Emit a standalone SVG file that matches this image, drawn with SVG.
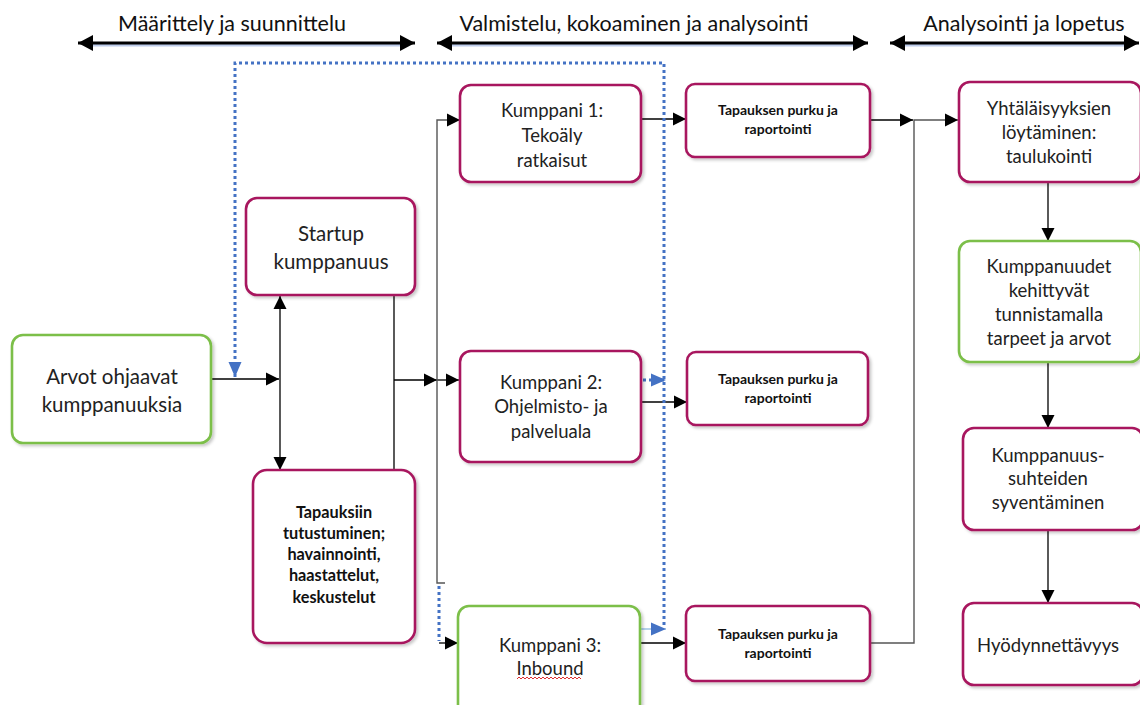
<svg xmlns="http://www.w3.org/2000/svg" width="1140" height="705" viewBox="0 0 1140 705">
  <defs>
    <filter id="shadow" x="-10%" y="-10%" width="130%" height="130%">
      <feDropShadow dx="2" dy="2" stdDeviation="1.8" flood-color="#000" flood-opacity="0.22"/>
    </filter>
    <marker id="arr" markerUnits="userSpaceOnUse" markerWidth="14" markerHeight="14" refX="13" refY="7" orient="auto">
      <path d="M0,0.5 L13,7 L0,13.5 z" fill="#000"/>
    </marker>
    <marker id="harr" markerUnits="userSpaceOnUse" markerWidth="16" markerHeight="16" refX="15" refY="8" orient="auto-start-reverse">
      <path d="M0,0 L15,8 L0,16 z" fill="#000"/>
    </marker>
    <marker id="barr" markerUnits="userSpaceOnUse" markerWidth="16" markerHeight="14" refX="15" refY="7" orient="auto-start-reverse">
      <path d="M0,0.5 L15,7 L0,13.5 z" fill="#4472C4"/>
    </marker>
  </defs>
  <style>
    .box { fill: #fff; stroke-width: 2.6; filter: url(#shadow); }
    .mag { stroke: #A8185E; }
    .grn { stroke: #7CBF4A; }
    .t { font-family: Lato, "Liberation Sans", sans-serif; font-size: 18.5px; fill: #222; text-anchor: middle; }
    .tl { font-family: Lato, "Liberation Sans", sans-serif; font-size: 20.5px; fill: #222; text-anchor: middle; }
    .tb { font-family: Lato, "Liberation Sans", sans-serif; font-weight: bold; font-size: 16.3px; fill: #111; text-anchor: middle; }
    .ts { font-family: Lato, "Liberation Sans", sans-serif; font-weight: bold; font-size: 14px; fill: #111; text-anchor: middle; }
    .th { font-family: Lato, "Liberation Sans", sans-serif; font-size: 21.5px; fill: #111; text-anchor: middle; }
    .ln { fill: none; stroke: #000; stroke-width: 1.3; }
    .gr { fill: none; stroke: #555; stroke-width: 1.4; }
    .dot { fill: none; stroke: #4472C4; stroke-width: 3; stroke-dasharray: 3 3; }
    .hdr { fill: none; stroke: #000; stroke-width: 3; }
    .hdr-glow { fill: none; stroke: #8FA9DA; stroke-width: 3; opacity: 0.6; }
  </style>

  <!-- phase headers -->
  <g id="phases">
    <text class="th" x="232" y="31">Määrittely ja suunnittelu</text>
    <path class="hdr-glow" d="M90,45 H404"/>
    <path class="hdr" d="M78,43 H415" marker-start="url(#harr)" marker-end="url(#harr)"/>
    <text class="th" x="634" y="31">Valmistelu, kokoaminen ja analysointi</text>
    <path class="hdr-glow" d="M449,45 H857"/>
    <path class="hdr" d="M437,43 H868" marker-start="url(#harr)" marker-end="url(#harr)"/>
    <text class="th" x="1024" y="31">Analysointi ja lopetus</text>
    <path class="hdr-glow" d="M902,45 H1128"/>
    <path class="hdr" d="M890,43 H1139" marker-start="url(#harr)" marker-end="url(#harr)"/>
  </g>

  <!-- connectors -->
  <g id="connectors">
    <path class="ln" d="M211,379 H279" marker-end="url(#arr)"/>
    <path class="ln" d="M280,379 V296" marker-end="url(#arr)"/>
    <path class="ln" d="M280,379 V470" marker-end="url(#arr)"/>
    <path class="ln" d="M394,296 V470"/>
    <path class="ln" d="M394,380 H437" marker-end="url(#arr)"/>
    <path class="ln" d="M437,380 H459" marker-end="url(#arr)"/>
    <path class="gr" d="M445,583 H437 V120 H460" marker-end="url(#arr)"/>
    <path class="dot" d="M439,586 V641"/>
    <path class="ln" d="M439,643 H458" marker-end="url(#arr)"/>
    <path class="ln" d="M641,119 H686" marker-end="url(#arr)"/>
    <path class="ln" d="M641,402 H687" marker-end="url(#arr)"/>
    <path class="ln" d="M640,643 H686" marker-end="url(#arr)"/>
    <path class="ln" d="M870,120 H913" marker-end="url(#arr)"/>
    <path class="gr" d="M870,643 H914 V120 H958" marker-end="url(#arr)"/>
    <path class="ln" d="M1048,182 V241" marker-end="url(#arr)"/>
    <path class="ln" d="M1048,362 V428" marker-end="url(#arr)"/>
    <path class="ln" d="M1048,530 V603" marker-end="url(#arr)"/>
    <!-- dotted feedback loop -->
    <path class="dot" d="M235,377 V63 H664 V626" marker-start="url(#barr)"/>
    <path class="dot" d="M643,380 H666" marker-end="url(#barr)"/>
    <path fill="none" stroke="#9DC3E6" stroke-width="1.5" d="M640,629 H666" marker-end="url(#barr)"/>
  </g>

  <g id="arvot">
    <rect class="box grn" x="12" y="335" width="199" height="108" rx="11"/>
    <text class="tl" x="112" y="384">Arvot ohjaavat</text>
    <text class="tl" x="112" y="412">kumppanuuksia</text>
  </g>

  <g id="startup">
    <rect class="box mag" x="246" y="198" width="169" height="97" rx="11"/>
    <text class="tl" x="331" y="241">Startup</text>
    <text class="tl" x="331" y="269">kumppanuus</text>
  </g>

  <g id="tapauksiin">
    <rect class="box mag" x="253" y="470" width="162" height="173" rx="14"/>
    <text class="tb" x="334" y="518">Tapauksiin</text>
    <text class="tb" x="334" y="539">tutustuminen;</text>
    <text class="tb" x="334" y="560">havainnointi,</text>
    <text class="tb" x="334" y="581">haastattelut,</text>
    <text class="tb" x="334" y="603">keskustelut</text>
  </g>

  <g id="kumppani1">
    <rect class="box mag" x="460" y="85" width="181" height="97" rx="11"/>
    <text class="t" x="552" y="117">Kumppani 1:</text>
    <text class="t" x="552" y="142">Tekoäly</text>
    <text class="t" x="552" y="167">ratkaisut</text>
  </g>

  <g id="kumppani2">
    <rect class="box mag" x="460" y="351" width="181" height="111" rx="11"/>
    <text class="t" x="551" y="389">Kumppani 2:</text>
    <text class="t" x="551" y="413">Ohjelmisto- ja</text>
    <text class="t" x="551" y="438">palveluala</text>
  </g>

  <g id="kumppani3">
    <rect class="box grn" x="458" y="606" width="182" height="110" rx="11"/>
    <text class="t" x="550" y="652">Kumppani 3:</text>
    <text class="t" x="550" y="675">Inbound</text>
    <path d="M517,679 l2,-2 l2,2 l2,-2 l2,2 l2,-2 l2,2 l2,-2 l2,2 l2,-2 l2,2 l2,-2 l2,2 l2,-2 l2,2 l2,-2 l2,2 l2,-2 l2,2 l2,-2 l2,2 l2,-2 l2,2 l2,-2 l2,2 l2,-2 l2,2 l2,-2 l2,2 l2,-2 l2,2 l2,-2 l2,2" fill="none" stroke="#E03030" stroke-width="1"/>
  </g>

  <g id="purku1">
    <rect class="box mag" x="686" y="84" width="184" height="73" rx="9"/>
    <text class="ts" x="778" y="115">Tapauksen purku ja</text>
    <text class="ts" x="778" y="134">raportointi</text>
  </g>

  <g id="purku2">
    <rect class="box mag" x="687" y="352" width="181" height="73" rx="9"/>
    <text class="ts" x="778" y="384">Tapauksen purku ja</text>
    <text class="ts" x="778" y="403">raportointi</text>
  </g>

  <g id="purku3">
    <rect class="box mag" x="686" y="606" width="184" height="75" rx="9"/>
    <text class="ts" x="778" y="639">Tapauksen purku ja</text>
    <text class="ts" x="778" y="658">raportointi</text>
  </g>

  <g id="yhtalaisyydet">
    <rect class="box mag" x="959" y="82" width="182" height="100" rx="11"/>
    <text class="t" x="1049" y="115">Yhtäläisyyksien</text>
    <text class="t" x="1049" y="139">löytäminen:</text>
    <text class="t" x="1049" y="163">taulukointi</text>
  </g>

  <g id="kehittyvat">
    <rect class="box grn" x="959" y="241" width="182" height="121" rx="11"/>
    <text class="t" x="1049" y="273">Kumppanuudet</text>
    <text class="t" x="1049" y="297">kehittyvät</text>
    <text class="t" x="1049" y="321">tunnistamalla</text>
    <text class="t" x="1049" y="345">tarpeet ja arvot</text>
  </g>

  <g id="syventaminen">
    <rect class="box mag" x="963" y="428" width="180" height="102" rx="11"/>
    <text class="t" x="1048" y="462">Kumppanuus-</text>
    <text class="t" x="1048" y="485">suhteiden</text>
    <text class="t" x="1048" y="509">syventäminen</text>
  </g>

  <g id="hyodynnettavyys">
    <rect class="box mag" x="963" y="603" width="180" height="82" rx="11"/>
    <text class="t" x="1048" y="652">Hyödynnettävyys</text>
  </g>
</svg>
